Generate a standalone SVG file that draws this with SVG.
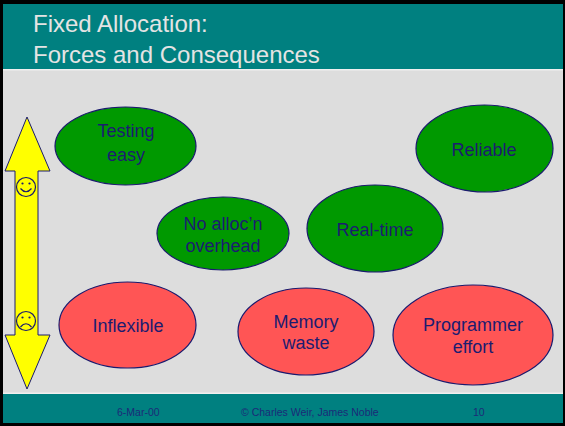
<svg xmlns="http://www.w3.org/2000/svg" width="565" height="426" viewBox="0 0 565 426">
<style>
.node ellipse{stroke:#1a1a6e;stroke-width:1.2}
.good{fill:#009900}
.bad{fill:#ff5555}
.lbl{font-family:"Liberation Sans",Arial,sans-serif;font-size:18px;fill:#1c1c70;text-anchor:middle}
.title{font-family:"Liberation Sans",Arial,sans-serif;font-size:24px;fill:#e4e4e4}
.foot{font-family:"Liberation Sans",Arial,sans-serif;font-size:10.5px;fill:#1c2a78}
.face{fill:none;stroke:#1a1a6e;stroke-width:1.2}
</style>
<rect x="0" y="0" width="565" height="426" fill="#000"/>
<rect x="3" y="4" width="560" height="419" fill="#dddddd"/>
<rect x="3" y="4" width="560" height="65" fill="#008080"/>
<rect x="3" y="69" width="560" height="1.5" fill="#f0f0f0"/>
<rect x="3" y="392.5" width="560" height="1.5" fill="#f0f0f0"/>
<rect x="3" y="394" width="560" height="29" fill="#008080"/>
<text class="title" x="33" y="32">Fixed Allocation:</text>
<text class="title" x="33" y="63">Forces and Consequences</text>
<g id="footer">
<text class="foot" x="117" y="415.5">6-Mar-00</text>
<text class="foot" x="241" y="415.5">© Charles Weir, James Noble</text>
<text class="foot" x="473" y="415.5">10</text>
</g>
<g id="scale-arrow">
<polygon points="27,117 50,171 38,171 38,335 50,335 27,389 5,335 15,335 15,171 5,171" fill="#ffff00" stroke="#1a1a6e" stroke-width="1"/>
<g id="happy">
<circle class="face" cx="26" cy="187" r="9.5"/>
<circle cx="22.5" cy="183.5" r="1.1" fill="#1a1a6e"/>
<circle cx="29.5" cy="183.5" r="1.1" fill="#1a1a6e"/>
<path class="face" d="M20.5,188.5 Q26,195 31.5,188.5"/>
</g>
<g id="sad">
<circle class="face" cx="26" cy="321" r="9.5"/>
<circle cx="22.5" cy="317.5" r="1.1" fill="#1a1a6e"/>
<circle cx="29.5" cy="317.5" r="1.1" fill="#1a1a6e"/>
<path class="face" d="M20.5,327 Q26,320.5 31.5,327"/>
</g>
</g>
<g id="testing-easy" class="node">
<ellipse class="good" cx="125.5" cy="146" rx="70.5" ry="39"/>
<text class="lbl" x="126" y="137">Testing</text>
<text class="lbl" x="126" y="161">easy</text>
</g>
<g id="reliable" class="node">
<ellipse class="good" cx="484.5" cy="148.5" rx="68.5" ry="43.5"/>
<text class="lbl" x="484" y="156">Reliable</text>
</g>
<g id="no-alloc" class="node">
<ellipse class="good" cx="223" cy="233.5" rx="66" ry="36.5"/>
<text class="lbl" x="223" y="230">No alloc’n</text>
<text class="lbl" x="223" y="252">overhead</text>
</g>
<g id="real-time" class="node">
<ellipse class="good" cx="375" cy="228.5" rx="68" ry="43.5"/>
<text class="lbl" x="375" y="236">Real-time</text>
</g>
<g id="inflexible" class="node">
<ellipse class="bad" cx="127.5" cy="325" rx="68.5" ry="43"/>
<text class="lbl" x="128" y="332">Inflexible</text>
</g>
<g id="memory-waste" class="node">
<ellipse class="bad" cx="306" cy="331.5" rx="68" ry="43.5"/>
<text class="lbl" x="306" y="328">Memory</text>
<text class="lbl" x="306" y="349">waste</text>
</g>
<g id="programmer-effort" class="node">
<ellipse class="bad" cx="473" cy="335" rx="80" ry="50"/>
<text class="lbl" x="473" y="331">Programmer</text>
<text class="lbl" x="473" y="353">effort</text>
</g>
</svg>
